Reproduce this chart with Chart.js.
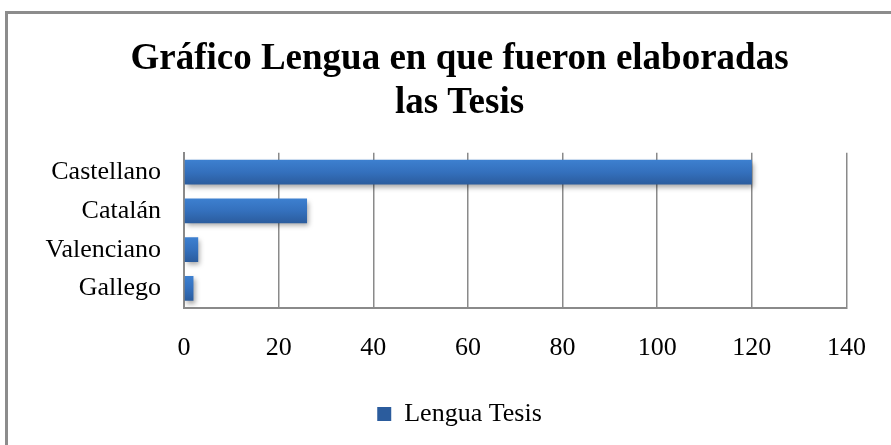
<!DOCTYPE html>
<html>
<head>
<meta charset="utf-8">
<script src="https://cdn.jsdelivr.net/npm/chart.js@4.4.1/dist/chart.umd.min.js"></script>
<style>
    html, body { margin: 0; padding: 0; background: #fff; }
    #wrap { position: relative; width: 891px; height: 445px; overflow: hidden; }
    #frame {
        position: absolute; left: 5px; top: 11px; width: 1000px; height: 1000px;
        border-top: 3px solid #8c8c8c; border-left: 3px solid #8c8c8c;
        pointer-events: none;
    }
    canvas { position: absolute; left: 0; top: 0; }
</style>
</head>
<body>
<div id="wrap">
    <div id="frame"></div>
    <canvas id="chart" width="891" height="445"></canvas>
</div>
<script>
const categories = ['Castellano', 'Catalán', 'Valenciano', 'Gallego'];
const values = [120, 26, 3, 2];
const seriesName = 'Lengua Tesis';
const titleLines = ['Gráfico Lengua en que fueron elaboradas', 'las Tesis'];
const xTicks = [0, 20, 40, 60, 80, 100, 120, 140];

const FONT = '"Liberation Serif", "Times New Roman", serif';
const CAT_PCT = 0.8;
const BAR_PCT = 0.8;

Chart.defaults.color = '#000';
Chart.defaults.font.family = FONT;

// Vertical gradient for each bar, from its own top to bottom edge
function barGradient(context) {
    const chart = context.chart;
    const area = chart.chartArea;
    if (!area || context.dataIndex === undefined) return '#3570bd';
    const yScale = chart.scales.y;
    const y = yScale.getPixelForTick(context.dataIndex);
    const half = (area.height / categories.length) * CAT_PCT * BAR_PCT / 2;
    const g = chart.ctx.createLinearGradient(0, y - half, 0, y + half);
    g.addColorStop(0, '#3d80d0');
    g.addColorStop(0.5, '#3470bd');
    g.addColorStop(1, '#2b5c9d');
    return g;
}

// Soft shadow under the bars
const barShadow = {
    id: 'barShadow',
    beforeDatasetsDraw(chart) {
        const ctx = chart.ctx;
        ctx.save();
        ctx.shadowColor = 'rgba(0, 0, 0, 0.35)';
        ctx.shadowBlur = 5;
        ctx.shadowOffsetX = 2;
        ctx.shadowOffsetY = 3;
    },
    afterDatasetsDraw(chart) {
        chart.ctx.restore();
    }
};

new Chart(document.getElementById('chart'), {
    type: 'bar',
    data: {
        labels: categories,
        datasets: [{
            label: seriesName,
            data: values,
            backgroundColor: barGradient,
            borderWidth: 0,
            categoryPercentage: CAT_PCT,
            barPercentage: BAR_PCT
        }]
    },
    options: {
        indexAxis: 'y',
        responsive: false,
        animation: false,
        layout: {
            autoPadding: false,
            padding: { left: 43, right: 15, top: 17, bottom: 8 }
        },
        plugins: {
            title: {
                display: true,
                text: titleLines,
                color: '#000',
                font: { family: FONT, size: 37, weight: 'bold', lineHeight: 1.2 },
                padding: { top: 20, bottom: 27 }
            },
            legend: {
                display: true,
                position: 'bottom',
                labels: {
                    color: '#000',
                    boxWidth: 14,
                    boxHeight: 14,
                    font: { family: FONT, size: 26 },
                    padding: 12
                }
            },
            tooltip: { enabled: false }
        },
        scales: {
            x: {
                min: 0,
                max: 140,
                afterBuildTicks: axis => {
                    axis.ticks = xTicks.map(v => ({ value: v }));
                },
                grid: {
                    display: true,
                    color: '#8a8a8a',
                    lineWidth: 1.5,
                    drawTicks: false
                },
                border: { display: true, color: '#8a8a8a', width: 2 },
                ticks: {
                    color: '#000',
                    padding: 25,
                    maxRotation: 0,
                    font: { family: FONT, size: 26 }
                }
            },
            y: {
                afterFit: axis => { axis.width = 141; },
                grid: { display: false, drawTicks: false },
                border: { display: true, color: '#8a8a8a', width: 2 },
                ticks: {
                    color: '#000',
                    padding: 23,
                    font: { family: FONT, size: 26 }
                }
            },
            // empty spacer on the right so the plot ends where the reference does
            spacer: {
                type: 'linear',
                position: 'right',
                display: true,
                afterFit: axis => { axis.width = 4; },
                grid: { display: false, drawTicks: false },
                border: { display: false },
                ticks: { display: false }
            }
        }
    },
    plugins: [barShadow]
});
</script>
</body>
</html>
